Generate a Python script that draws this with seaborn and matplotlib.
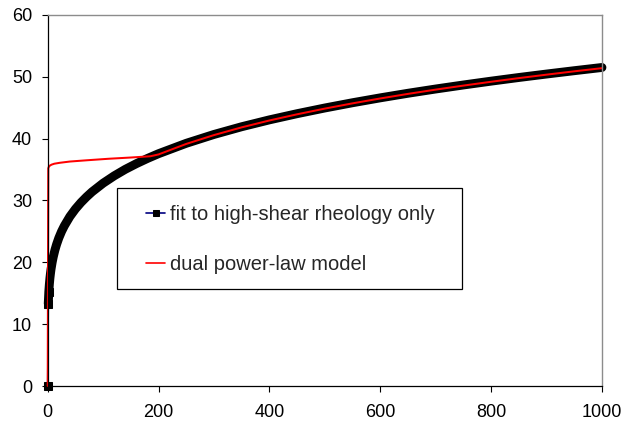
import matplotlib
matplotlib.use("Agg")
import matplotlib.pyplot as plt
from matplotlib.patches import Rectangle
import seaborn as sns
import pandas as pd

# fit to high-shear rheology only
fit_x = [0, 1, 2, 3, 4, 5, 6, 8, 10, 13, 16, 20, 25, 30, 40, 50, 60, 70, 80, 100,
         120, 140, 160, 180, 200, 250, 300, 350, 400, 450, 500, 550, 600, 650,
         700, 750, 800, 850, 900, 950, 1000]
fit_y = [0.0, 13.3, 15.24, 16.49, 17.45, 18.23, 18.90, 19.99, 20.88, 21.99, 22.90,
         23.93, 25.00, 25.90, 27.41, 28.63, 29.67, 30.58, 31.40, 32.80, 33.99, 35.04,
         35.96, 36.80, 37.57, 39.25, 40.68, 41.93, 43.04, 44.04, 44.96, 45.81, 46.60,
         47.34, 48.03, 48.68, 49.30, 49.89, 50.45, 50.99, 51.51]

# dual power-law model
dual_x = [0, 1, 2, 4, 7, 12, 22, 40, 70, 110, 150, 185, 200, 250, 300, 350, 400,
          450, 500, 550, 600, 650, 700, 750, 800, 850, 900, 950, 1000]
dual_y = [0.0, 35.2, 35.45, 35.65, 35.8, 35.95, 36.1, 36.3, 36.5, 36.75, 36.95,
          37.15, 37.45, 39.15, 40.58, 41.83, 42.94, 43.94, 44.86, 45.71, 46.5, 47.24,
          47.93, 48.58, 49.2, 49.79, 50.35, 50.89, 51.4]

x_ticks = [0, 200, 400, 600, 800, 1000]
y_ticks = [0, 10, 20, 30, 40, 50, 60]

fit_df = pd.DataFrame({"x": fit_x, "y": fit_y})
dual_df = pd.DataFrame({"x": dual_x, "y": dual_y})

sns.set_theme(style="white")
plt.rcParams["font.family"] = ["Liberation Sans", "DejaVu Sans"]

fig = plt.figure(figsize=(6.37, 4.28), dpi=100)
ax = fig.add_axes([0.0749, 0.0981, 0.8701, 0.8669])

# navy connecting line with square markers (fit series)
sns.lineplot(data=fit_df, x="x", y="y", ax=ax, color="#000080", linewidth=1.2,
             marker="s", markersize=5.2, markevery=[0, 1, 2], markerfacecolor="black",
             markeredgecolor="black", estimator=None, sort=False, zorder=2,
             label="fit to high-shear rheology only")
# thick band formed by the dense square markers of the fit series
sns.lineplot(data=fit_df.iloc[1:], x="x", y="y", ax=ax, color="black", linewidth=6.4,
             estimator=None, sort=False, legend=False, solid_capstyle="round",
             solid_joinstyle="round", zorder=2.2)
sns.lineplot(data=dual_df, x="x", y="y", ax=ax, color="#ff0000", linewidth=1.45,
             estimator=None, sort=False, zorder=2.4, label="dual power-law model")

ax.set_xlim(0, 1000)
ax.set_ylim(0, 60)
ax.set_xticks(x_ticks)
ax.set_yticks(y_ticks)
ax.set_xticklabels([str(v) for v in x_ticks])
ax.set_yticklabels([str(v) for v in y_ticks])
ax.set_xlabel("")
ax.set_ylabel("")
for line in ax.get_lines():
    line.set_clip_on(False)

ax.tick_params(axis="both", which="major", direction="out", length=4.3, width=0.8,
               color="black", labelsize=13, labelcolor="black",
               bottom=True, left=True)
ax.tick_params(axis="x", pad=9)
ax.tick_params(axis="y", pad=7)
for s in ["left", "bottom"]:
    ax.spines[s].set_color("black")
    ax.spines[s].set_linewidth(0.9)
for s in ["top", "right"]:
    ax.spines[s].set_color("#8c8c8c")
    ax.spines[s].set_linewidth(1.0)

# legend box
ax.add_patch(Rectangle((0.125, 0.2615), 0.6224, 0.2722, transform=ax.transAxes,
                       facecolor="white", edgecolor="black", linewidth=0.9,
                       zorder=4))
leg = ax.legend(loc="upper left", bbox_to_anchor=(0.1773, 0.489), fontsize=14.5,
                frameon=False, borderpad=0, labelspacing=1.54, handlelength=0.95,
                handletextpad=0.25, borderaxespad=0)
leg.set_zorder(5)
for h in leg.legend_handles:
    h.set_linewidth(1.2)
    h.set_markersize(5)

fig.savefig("out.png", dpi=100, facecolor="white")
